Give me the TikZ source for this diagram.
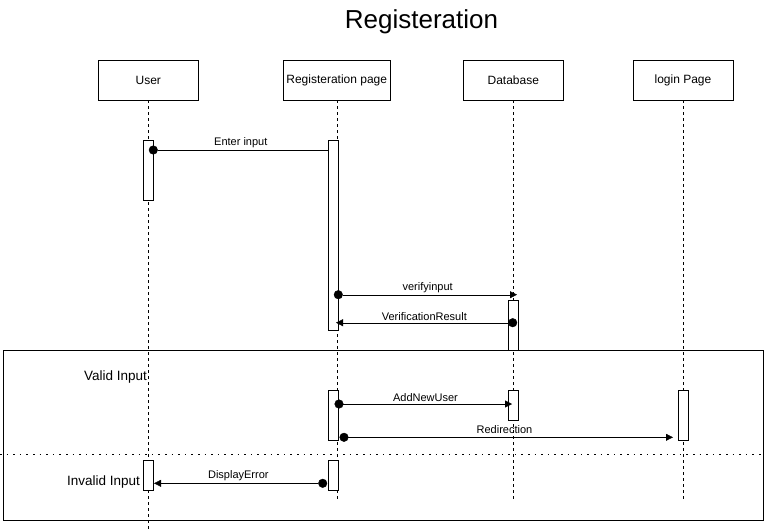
\documentclass[tikz,border=0pt]{standalone}
\usepackage{fontspec}
\setmainfont{Liberation Sans}
\usepackage{tikz}
\usetikzlibrary{arrows.meta}

\begin{document}
\begin{tikzpicture}[x=1pt,y=-1pt,
  head/.style={draw, minimum width=100pt, minimum height=40pt, inner sep=0pt, font=\fontsize{12}{14}\selectfont},
  lifeline/.style={dash pattern=on 3pt off 3pt},
  actbar/.style={draw, fill=white, minimum width=10pt, inner sep=0pt},
  msg/.style={{Circle[length=9pt]}-{Triangle[length=7pt,width=7pt]}, shorten <=-4.5pt},
  msgend/.style={{Circle[length=9pt]}-, shorten <=-4.5pt},
  lbl/.style={font=\fontsize{11}{13}\selectfont, inner sep=2pt}]
  \useasboundingbox (0,0) rectangle (766,531);
  \node[font=\fontsize{26}{30}\selectfont] (title) at (421.5,22) {Registeration};
  % lifeline heads
  \node[head] (user) at (148.3,80) {User};
  \node[head, minimum width=107pt] (regpage) at (336.7,80) {Registeration page};
  \node[head] (db) at (513.3,80) {Database};
  \node[head] (login) at (683,80) {login Page};
  % alt frame
  \draw (3.3,350) rectangle (762.7,520);
  \coordinate (sepL) at (0,454.5);
  \coordinate (sepR) at (762.7,454.5);
  \draw[line width=1.6pt, dash pattern=on 1.6pt off 5pt] (sepL) -- (sepR);
  \node[anchor=east, inner sep=0pt, font=\fontsize{13.5}{15}\selectfont] (valid) at (147,377) {Valid Input};
  \node[anchor=east, inner sep=0pt, font=\fontsize{13.5}{15}\selectfont] (invalid) at (140,482) {Invalid Input};
  % lifelines
  \coordinate (userend) at (148.3,531);
  \coordinate (regend) at (336.7,500);
  \coordinate (dbend) at (513.3,500);
  \coordinate (loginend) at (683,500);
  \draw[lifeline] (user) -- (userend);
  \draw[lifeline] (regpage) -- (regend);
  \draw[lifeline] (db) -- (dbend);
  \draw[lifeline] (login) -- (loginend);
  % activation bars
  \node[actbar, minimum height=60pt] (userA) at (148.3,170) {};
  \node[actbar, minimum height=190pt] (regA) at (333.3,235) {};
  \node[actbar, minimum height=50pt] (dbA) at (513.3,325) {};
  \node[actbar, minimum height=50pt] (regB) at (333.3,415) {};
  \node[actbar, minimum height=30pt] (dbB) at (513.3,405) {};
  \node[actbar, minimum height=50pt] (loginB) at (683,415) {};
  \node[actbar, minimum height=30pt] (userC) at (148.3,475) {};
  \node[actbar, minimum height=30pt] (regC) at (333.3,475) {};
  % message ends
  \coordinate (enterS) at (153.3,150);
  \coordinate (enterE) at (328.3,150);
  \coordinate (verS) at (338.3,294.7);
  \coordinate (verE) at (517,294.7);
  \coordinate (resS) at (512.7,322.7);
  \coordinate (resE) at (336,322.7);
  \coordinate (addS) at (339,404);
  \coordinate (addE) at (512,404);
  \coordinate (redS) at (344,437.3);
  \coordinate (redE) at (673,437.3);
  \coordinate (errS) at (322.7,483.3);
  \coordinate (errE) at (154,483.3);
  % messages
  \draw[msgend] (enterS) -- node[lbl, above] {Enter input} (enterE);
  \draw[msg] (verS) -- node[lbl, above] {verifyinput} (verE);
  \draw[msg] (resS) -- node[lbl, above] {VerificationResult} (resE);
  \draw[msg] (addS) -- node[lbl, above] {AddNewUser} (addE);
  \draw[msg] (redS) -- node[lbl, above, xshift=-4pt, yshift=1.5pt] {Redirection} (redE);
  \draw[msg] (errS) -- node[lbl, above] {DisplayError} (errE);
\end{tikzpicture}
\end{document}
